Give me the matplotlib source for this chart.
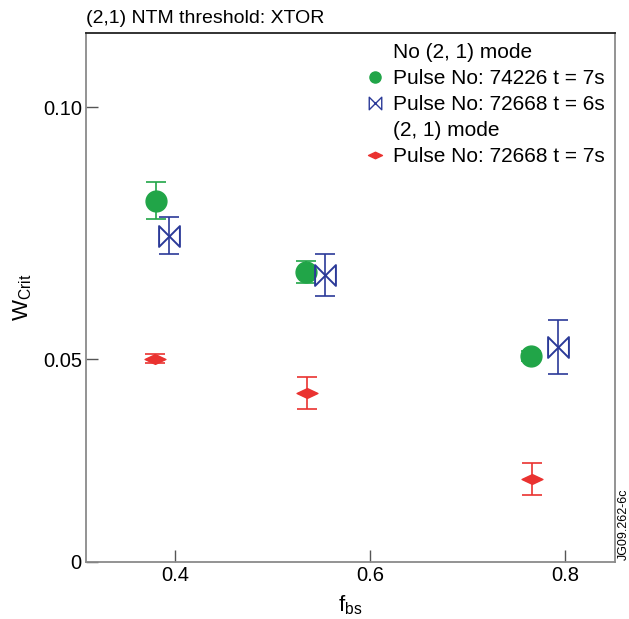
import numpy as np
import matplotlib
matplotlib.use("Agg")
import matplotlib.pyplot as plt
from matplotlib.path import Path
from matplotlib.lines import Line2D

plt.rcParams["font.family"] = ["Liberation Sans", "DejaVu Sans"]

# (2,1) NTM threshold data
f_bs_74226 = [0.381, 0.534, 0.765]
w_74226 = [0.0815, 0.0673, 0.0507]
err_74226 = [0.0036, 0.0022, 0.0010]

f_bs_72668_6s = [0.394, 0.554, 0.793]
w_72668_6s = [0.0745, 0.0667, 0.0524]
err_72668_6s = [0.0037, 0.0041, 0.0053]

f_bs_72668_7s = [0.380, 0.535, 0.766]
w_72668_7s = [0.0501, 0.0433, 0.0262]
err_72668_7s = [0.0009, 0.0032, 0.0031]

x_ticks = [0.4, 0.6, 0.8]
x_tick_labels = ["0.4", "0.6", "0.8"]
y_ticks = [0.0097, 0.05, 0.10]
y_tick_labels = ["0", "0.05", "0.10"]

GREEN = "#21a548"
BLUE = "#2b3a98"
RED = "#ea3230"

# bowtie and flat diamond markers
bowtie = Path([(-1, -1), (-1, 1), (1, -1), (1, 1), (-1, -1)],
              [Path.MOVETO, Path.LINETO, Path.LINETO, Path.LINETO, Path.CLOSEPOLY])
flat_diamond = Path([(-1, 0), (0, 0.47), (1, 0), (0, -0.47), (-1, 0)],
                    [Path.MOVETO, Path.LINETO, Path.LINETO, Path.LINETO, Path.CLOSEPOLY])

fig = plt.figure(figsize=(6.29, 6.19), dpi=100)
ax = fig.add_axes([0.1367, 0.0921, 0.8410, 0.8546])

ax.errorbar(f_bs_74226, w_74226, yerr=err_74226, fmt="o", color=GREEN,
            markersize=15, elinewidth=1.2, capsize=7.5, capthick=1.2, zorder=3)
ax.errorbar(f_bs_72668_6s, w_72668_6s, yerr=err_72668_6s, fmt="none", ecolor=BLUE,
            elinewidth=1.2, capsize=7.5, capthick=1.2, zorder=3)
ax.plot(f_bs_72668_6s, w_72668_6s, linestyle="none", marker=bowtie, markersize=15,
        markerfacecolor="none", markeredgecolor=BLUE, markeredgewidth=1.4, zorder=4)
ax.errorbar(f_bs_72668_7s, w_72668_7s, yerr=err_72668_7s, fmt="none", ecolor=RED,
            elinewidth=1.2, capsize=7.5, capthick=1.2, zorder=3)
ax.plot(f_bs_72668_7s, w_72668_7s, linestyle="none", marker=flat_diamond, markersize=15,
        color=RED, zorder=4)

ax.set_xlim(0.309, 0.851)
ax.set_ylim(0.0097, 0.1148)
ax.set_xticks(x_ticks)
ax.set_xticklabels(x_tick_labels)
ax.set_yticks(y_ticks)
ax.set_yticklabels(y_tick_labels)
ax.tick_params(direction="in", length=8.5, width=1.0, color="#555555",
               labelsize=14.5, pad=3)

for side in ["left", "bottom", "right"]:
    ax.spines[side].set_color("#8a8a8a")
    ax.spines[side].set_linewidth(1.3)
ax.spines["top"].set_color("#222222")
ax.spines["top"].set_linewidth(1.3)

ax.set_xlabel("f$_{\\mathregular{bs}}$", fontsize=16, labelpad=6)
ax.set_ylabel("W$_{\\mathregular{Crit}}$", fontsize=16, labelpad=6)
ax.text(0.0, 1.012, "(2,1) NTM threshold: XTOR", transform=ax.transAxes,
        fontsize=14, ha="left", va="bottom")
fig.text(0.992, 0.095, "JG09.262-6c", rotation=90, fontsize=9,
         ha="center", va="bottom")

blank = Line2D([], [], linestyle="none", marker=None)
handles = [
    blank,
    Line2D([], [], linestyle="none", marker="o", color=GREEN, markersize=8),
    Line2D([], [], linestyle="none", marker=bowtie, markersize=9,
           markerfacecolor="none", markeredgecolor=BLUE, markeredgewidth=1.0),
    blank,
    Line2D([], [], linestyle="none", marker=flat_diamond, color=RED, markersize=10),
]
labels = [
    "No (2, 1) mode",
    "Pulse No: 74226 t = 7s",
    "Pulse No: 72668 t = 6s",
    "(2, 1) mode",
    "Pulse No: 72668 t = 7s",
]
ax.legend(handles, labels, loc="upper right", frameon=False, fontsize=15,
          handlelength=0.8, handletextpad=0.45, labelspacing=0.33,
          borderaxespad=0.1, bbox_to_anchor=(1.0, 1.0))

fig.savefig("out.png", dpi=100)
